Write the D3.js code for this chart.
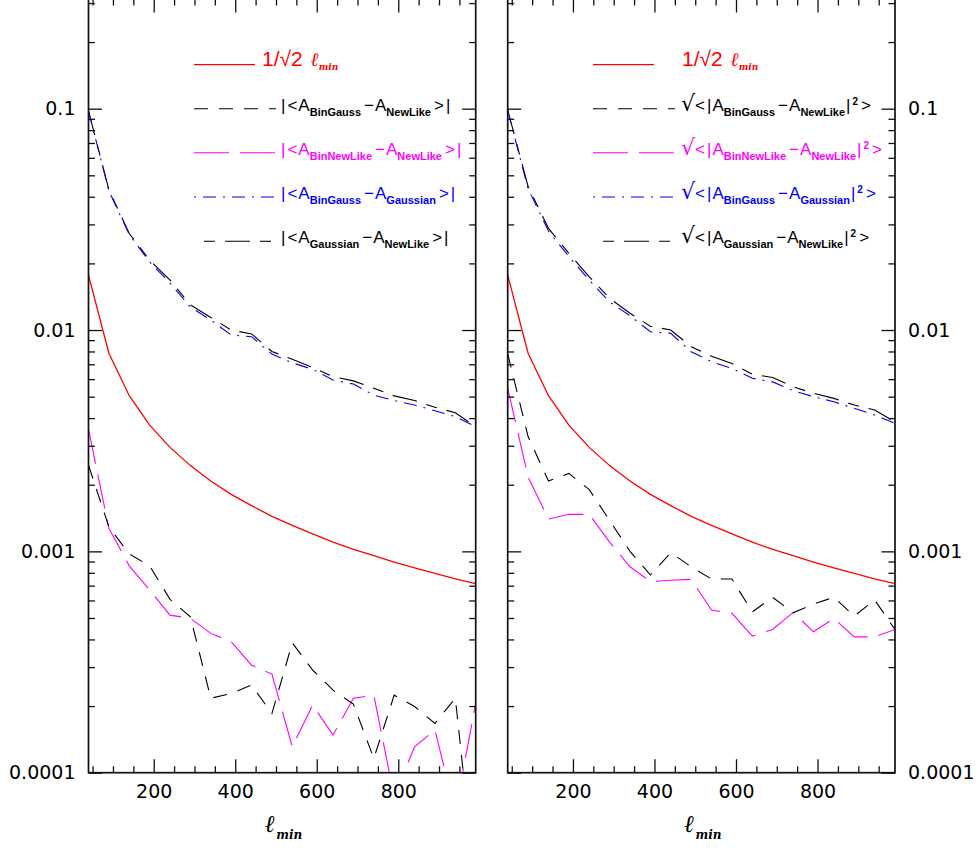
<!DOCTYPE html>
<html><head><meta charset="utf-8">
<script src="https://cdn.jsdelivr.net/npm/d3@7"></script>
<style>body{margin:0;background:#fff}svg{display:block}</style>
</head><body>
<svg id="chart" width="980" height="848"></svg>
<script>
// ---------- data ----------
const ell = [40,90,140,190,240,290,340,390,440,490,540,590,640,690,740,790,840,890,940,990];
const invSqrt2Lmin = [0.0177,0.00786,0.00505,0.00372,0.00295,0.00244,0.00208,0.00181,0.00161,0.00144,0.00131,0.00120,0.00110,0.00102,0.000956,0.000895,0.000842,0.000795,0.000752,0.000714];

// left panel: |< A_x - A_y >|
const leftGaussNew    = [0.0976,0.043,0.0273,0.0207,0.0168,0.0130,0.0114,0.0100,0.0096,0.0080,0.00738,0.00678,0.00615,0.00589,0.00546,0.00504,0.0048,0.00448,0.00423,0.00366];
const leftBinGaussGauss = [0.0976,0.0425,0.027,0.0203,0.0163,0.0127,0.0111,0.00949,0.00933,0.00779,0.00711,0.00664,0.00594,0.0057,0.00508,0.0048,0.00458,0.00432,0.00406,0.00366];
const leftBinGaussNew = [0.00245,0.00129,0.000973,0.00086,0.000607,0.000506,0.000217,0.000228,0.000249,0.000185,0.000386,0.000291,0.000236,0.000204,0.000116,0.000224,0.000199,0.000167,0.000217,0.00003];
const leftBinNewNew   = [0.00356,0.00127,0.00086,0.000668,0.000515,0.000498,0.000426,0.000391,0.000306,0.000279,0.000131,0.000202,0.000148,0.000217,0.000224,0.000078,0.000131,0.000156,0.000066,0.000206];

// right panel: sqrt(< |A_x - A_y|^2 >)
const rightGaussNew    = [0.0986,0.0445,0.0288,0.0222,0.0174,0.0139,0.0119,0.0104,0.0100,0.0084,0.00762,0.00706,0.00632,0.0061,0.00554,0.00518,0.00491,0.00458,0.00435,0.00385];
const rightBinGaussGauss = [0.098,0.0435,0.028,0.0215,0.0168,0.0134,0.0116,0.00982,0.00966,0.00798,0.00719,0.00671,0.00605,0.00583,0.00532,0.0050,0.00474,0.00443,0.00413,0.00379];
const rightBinGaussNew = [0.0078,0.0033,0.00208,0.00225,0.0019,0.00138,0.0010,0.000782,0.000986,0.000852,0.00075,0.00075,0.000533,0.00062,0.000528,0.000578,0.00062,0.00051,0.000603,0.000444];
const rightBinNewNew   = [0.00545,0.00217,0.0014,0.00147,0.00147,0.0011,0.000852,0.00073,0.00074,0.000747,0.000543,0.000525,0.000414,0.000444,0.00053,0.000433,0.000498,0.000411,0.000411,0.000444];

const xMajorTicks = [200,400,600,800];
const xMinorTicks = [50,100,150,250,300,350,450,500,550,650,700,750,850,900,950];
const yMajorTicks = [0.0001,0.001,0.01,0.1];
const yTickLabels = ["0.0001","0.001","0.01","0.1"];

// ---------- layout ----------
const svg = d3.select("#chart");
const yTop = -1, yBot = 772.7;
const y = d3.scaleLog().domain([1e-4, 0.313]).range([yBot, yTop]);
const yMinor = y.ticks().filter(v => Math.abs(Math.log10(v) - Math.round(Math.log10(v))) > 1e-6);

const TXT = "'DejaVu Sans', sans-serif";
const LEG = "'Liberation Sans', Arial, sans-serif";
const SER = "'DejaVu Serif', serif";

const styles = {
  red:   {color:"#ff0000", dash:null, width:1.3, offset:0, plotOffset:0},
  bg:    {color:"#000000", dash:"14,11", width:1.1, offset:0, plotOffset:0},
  bn:    {color:"#ff00ff", dash:"35,11", width:1.1, offset:0, plotOffset:0},
  bgg:   {color:"#0000ff", dash:"2,7,13,7", width:1.1, offset:0, plotOffset:9},
  gn:    {color:"#000000", dash:"11,10,25,10", width:1.1, offset:46, plotOffset:21}
};

const panels = [
  {x0:88.5, x1:475.7, side:"left", sqrt:false,
   series:[["gn",leftGaussNew],["bgg",leftBinGaussGauss],["bn",leftBinNewNew],["bg",leftBinGaussNew],["red",invSqrt2Lmin]],
   legLine:[194,276], legText:281, redText:262},
  {x0:507.7, x1:895, side:"right", sqrt:true,
   series:[["gn",rightGaussNew],["bgg",rightBinGaussGauss],["bn",rightBinNewNew],["bg",rightBinGaussNew],["red",invSqrt2Lmin]],
   legLine:[593,675], legText:681, redText:682}
];

const legendRows = [64.7, 108.7, 152.7, 197, 241.3];
const legendKeys = ["red","bg","bn","bgg","gn"];
const legendParts = {
  bg:  ["BinGauss","NewLike"],
  bn:  ["BinNewLike","NewLike"],
  bgg: ["BinGauss","Gaussian"],
  gn:  ["Gaussian","NewLike"]
};

panels.forEach((p, pi) => {
  const x = d3.scaleLinear().domain([40, 990]).range([p.x0, p.x1]);
  const g = svg.append("g");

  const cid = "clip" + pi;
  svg.append("clipPath").attr("id", cid).append("rect")
    .attr("x", p.x0).attr("y", yTop).attr("width", p.x1 - p.x0).attr("height", yBot - yTop);

  const line = d3.line().x(d => x(d[0])).y(d => y(d[1]));
  const cg = g.append("g").attr("clip-path", `url(#${cid})`);
  p.series.forEach(([key, vals]) => {
    const s = styles[key];
    cg.append("path").datum(ell.map((l, i) => [l, vals[i]]))
      .attr("d", line).attr("fill", "none")
      .attr("stroke", s.color).attr("stroke-width", s.width)
      .attr("stroke-dasharray", s.dash).attr("stroke-dashoffset", s.plotOffset);
  });

  const axStyle = sel => {
    sel.select(".domain").remove();
    sel.selectAll(".tick line").attr("stroke", "#111").attr("stroke-width", 1.3);
    sel.selectAll("text").attr("font-family", TXT).attr("font-size", 19).attr("fill", "#000");
  };
  g.append("g").attr("transform", `translate(0,${yBot})`)
    .call(d3.axisBottom(x).tickValues(xMajorTicks).tickSize(-13.5).tickPadding(12).tickFormat(d3.format("d")))
    .call(axStyle);
  g.append("g").attr("transform", `translate(0,${yBot})`)
    .call(d3.axisBottom(x).tickValues(xMinorTicks).tickSize(-6.5).tickFormat(""))
    .call(axStyle);
  g.append("g").attr("transform", `translate(0,${yTop})`)
    .call(d3.axisTop(x).tickValues(xMajorTicks).tickSize(-13.5).tickFormat(""))
    .call(axStyle);
  g.append("g").attr("transform", `translate(0,${yTop})`)
    .call(d3.axisTop(x).tickValues(xMinorTicks).tickSize(-6.5).tickFormat(""))
    .call(axStyle);
  const lblFmt = (d) => yTickLabels[yMajorTicks.indexOf(d)];
  g.append("g").attr("transform", `translate(${p.x0},0)`)
    .call(d3.axisLeft(y).tickValues(yMajorTicks).tickSize(-13.5).tickPadding(13)
      .tickFormat(p.side === "left" ? lblFmt : ""))
    .call(axStyle);
  g.append("g").attr("transform", `translate(${p.x0},0)`)
    .call(d3.axisLeft(y).tickValues(yMinor).tickSize(-6.5).tickFormat(""))
    .call(axStyle);
  g.append("g").attr("transform", `translate(${p.x1},0)`)
    .call(d3.axisRight(y).tickValues(yMajorTicks).tickSize(-13.5).tickPadding(13)
      .tickFormat(p.side === "right" ? lblFmt : ""))
    .call(axStyle);
  g.append("g").attr("transform", `translate(${p.x1},0)`)
    .call(d3.axisRight(y).tickValues(yMinor).tickSize(-6.5).tickFormat(""))
    .call(axStyle);

  g.append("rect").attr("x", p.x0).attr("y", yTop).attr("width", p.x1 - p.x0).attr("height", yBot - yTop)
    .attr("fill", "none").attr("stroke", "#111").attr("stroke-width", 1.7);

  // x title
  const cx = (p.x0 + p.x1) / 2;
  const xt = g.append("text").attr("x", cx - 17).attr("y", 832).attr("fill", "#000");
  xt.append("tspan").text("ℓ").attr("font-family", SER)
    .attr("font-style", "italic").attr("font-weight", "bold").attr("font-size", 24);
  xt.append("tspan").text("min").attr("font-family", SER)
    .attr("font-style", "italic").attr("font-weight", "bold").attr("font-size", 12)
    .attr("dx", 1).attr("dy", 7);

  // legend
  legendKeys.forEach((key, ri) => {
    const s = styles[key];
    const ly = legendRows[ri];
    const [lx0, lx1] = key === "red" ? [p.legLine[0], p.legLine[0] + 61] : p.legLine;
    g.append("line").attr("x1", lx0).attr("x2", lx1).attr("y1", ly).attr("y2", ly)
      .attr("stroke", s.color).attr("stroke-width", s.width)
      .attr("stroke-dasharray", s.dash).attr("stroke-dashoffset", s.offset);

    if (key === "red") {
      const t = g.append("text").attr("x", p.redText).attr("y", ly + 1).attr("fill", s.color)
        .attr("font-family", LEG).attr("font-size", 21);
      t.append("tspan").text("1/√2");
      t.append("tspan").text("ℓ").attr("font-family", SER)
        .attr("font-style", "italic").attr("font-weight", "bold").attr("font-size", 19).attr("dx", 8);
      t.append("tspan").text("min").attr("font-family", SER)
        .attr("font-style", "italic").attr("font-weight", "bold").attr("font-size", 9).attr("dy", 4).attr("dx", 0);
      return;
    }
    const [a, b] = legendParts[key];
    const t = g.append("text").attr("x", p.legText).attr("y", ly + 2).attr("fill", s.color)
      .attr("font-family", LEG).attr("font-size", 17);
    const main = (txt, dx) => t.append("tspan").text(txt).attr("font-size", 17).attr("font-weight", "normal").attr("dx", dx || 0);
    const sub = (txt) => t.append("tspan").text(txt).attr("font-size", 11).attr("font-weight", "bold").attr("dy", 5);
    if (!p.sqrt) {
      main("|"); main("<", 2); main("A", 1);
      sub(a); t.append("tspan").text("−").attr("dy", -5).attr("dx", 3);
      main("A", 1); sub(b);
      t.append("tspan").text(">").attr("dy", -5).attr("dx", 3);
      main("|", 2);
    } else {
      t.append("tspan").text("√").attr("font-size", 22).attr("font-family", TXT).attr("dx", 0);
      main("<", 0); main("|", 2); main("A", 1);
      sub(a); t.append("tspan").text("−").attr("dy", -5).attr("dx", 3);
      main("A", 1); sub(b);
      t.append("tspan").text("|").attr("dy", -5).attr("dx", 1);
      t.append("tspan").text("2").attr("font-size", 10).attr("font-weight", "bold").attr("dy", -6).attr("dx", 2);
      t.append("tspan").text(">").attr("dy", 6).attr("dx", 3);
    }
  });
});
</script>
</body></html>
